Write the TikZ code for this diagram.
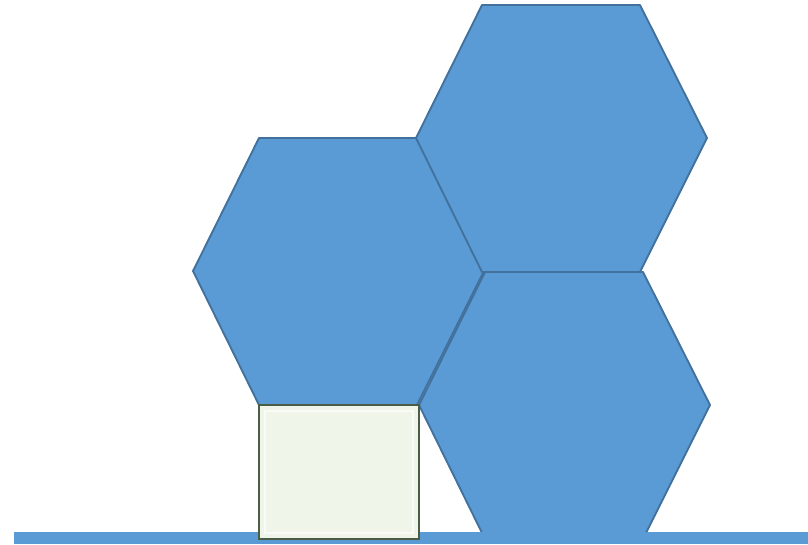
\documentclass[tikz,border=0pt]{standalone}
\usepackage{xcolor}
\usepackage{tikz}

\definecolor{hexblue}{HTML}{5B9BD5}
\definecolor{hexedge}{HTML}{41719C}
\definecolor{boxfill}{HTML}{EFF6E9}
\definecolor{boxedge}{HTML}{4A5E45}

\begin{document}
\begin{tikzpicture}[
    x=0.75pt, y=-0.75pt,
    hexface/.style={fill=hexblue, draw=hexedge, line width=1.4pt, line join=round},
    ground/.style={fill=hexblue},
    block/.style={fill=boxfill, draw=boxedge, line width=1.1pt}
]
\useasboundingbox (0,0) rectangle (808,544);

% --- one hexagon, drawn at an offset ---
\newcommand{\hexat}[2]{%
  \draw[hexface, shift={(#1,#2)}] (193,271) -- (259,138) -- (417,138) -- (484,271)
      -- (417,405) -- (259,405) -- cycle;}

\hexat{0}{0}
\hexat{223}{-133}
\hexat{226}{134}

% --- ground bar ---
\fill[ground] (14,532) rectangle (808,544);

% --- the small block under the left hexagon ---
\draw[block] (259,405) rectangle (419,539);
\draw[white!60!boxfill, line width=2pt] (265,411) rectangle (413,533);

\end{tikzpicture}
\end{document}
